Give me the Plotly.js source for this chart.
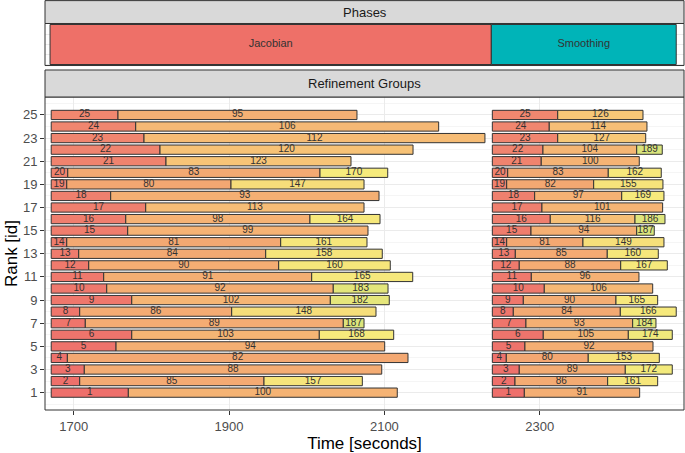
<!DOCTYPE html>
<html>
<head>
<meta charset="utf-8">
<script src="https://cdn.plot.ly/plotly-3.0.1.min.js"></script>
<style>html,body{margin:0;padding:0;background:#fff}#chart{width:685px;height:453px}</style>
</head>
<body>
<div id="chart"></div>
<script>
// ---------- data (rank 1 first) ----------
const ranks = [1,2,3,4,5,6,7,8,9,10,11,12,13,14,15,16,17,18,19,20,21,22,23,24,25];

const jacStart = 1671;
const jacEnds = [
  [1770.3,2116.6],
  [1707.7,1945.0,2071.6],
  [1713.6,2096.6],
  [1691.8,2130.4],
  [1754.5,2100.4],
  [1774.7,2016.2,2112.0],
  [1714.9,2047.1,2073.8],
  [1707.7,1903.4,2089.2],
  [1774.7,2030.4,2106.3],
  [1742.5,2034.2,2104.7],
  [1738.6,2006.4,2136.5],
  [1719.3,1963.9,2107.6],
  [1706.4,1947.2,2097.3],
  [1691.0,1966.5,2077.6],
  [1769.5,2078.9],
  [1767.0,2004.2,2094.4],
  [1792.7,2073.8],
  [1747.6,2093.1],
  [1691.0,1902.5,2073.8],
  [1692.3,2017.1,2104.3],
  [1818.8,2057.0],
  [1811.1,2136.9],
  [1790.5,2229.5],
  [1779.8,2169.9],
  [1757.0,2064.7]
];
const jacLabels = [
  [1,100],[2,85,157],[3,88],[4,82],[5,94],[6,103,168],[7,89,187],[8,86,148],
  [9,102,182],[10,92,183],[11,91,165],[12,90,160],[13,84,158],[14,81,161],
  [15,99],[16,98,164],[17,113],[18,93],[19,80,147],[20,83,170],[21,123],
  [22,120],[23,112],[24,106],[25,95]
];

const smoStart = 2239;
const smoEnds = [
  [2280.2,2428.7],
  [2268.2,2387.5,2451.9],
  [2273.7,2410.2,2470.7],
  [2257.0,2362.5,2454.0],
  [2281.0,2445.9],
  [2304.6,2414.1,2470.7],
  [2282.3,2419.7,2449.7],
  [2266.0,2403.8,2475.8],
  [2278.9,2398.2,2451.9],
  [2305.9,2445.5],
  [2289.2,2427.8],
  [2273.7,2404.3,2464.3],
  [2268.6,2387.0,2452.7],
  [2257.5,2355.7,2460.0],
  [2288.8,2424.9,2447.5],
  [2313.6,2422.7,2461.3],
  [2302.9,2458.3],
  [2293.5,2405.6,2460.0],
  [2257.5,2369.5,2458.7],
  [2258.8,2388.3,2456.5],
  [2302.0,2428.2],
  [2304.2,2424.9,2457.8],
  [2323.2,2436.5],
  [2312.3,2438.1],
  [2323.2,2433.0]
];
const smoLabels = [
  [1,91],[2,86,161],[3,89,172],[4,80,153],[5,92],[6,105,174],[7,93,184],[8,84,166],
  [9,90,165],[10,106],[11,96],[12,88,167],[13,85,160],[14,81,149],[15,94,187],
  [16,116,186],[17,101],[18,97,169],[19,82,155],[20,83,162],[21,100],
  [22,104,189],[23,127],[24,114],[25,126]
];

const phaseNames = ['Jacobian','Smoothing'];
const phaseStart = [1669.5, 2237.7];
const phaseEnd = [2237.7, 2475.8];
const phaseColors = ['#EE7068','#00B4B8'];

// ---------- colour ramp for group labels ----------
const stops = [[1,'#EE6F6B'],[25,'#F0876F'],[80,'#F3A772'],[100,'#F5B374'],[125,'#F7C677'],
               [150,'#F6E07A'],[170,'#F6EB7C'],[180,'#E8E77B'],[189,'#D9E47C']];
function hex2rgb(h){return [parseInt(h.substr(1,2),16),parseInt(h.substr(3,2),16),parseInt(h.substr(5,2),16)];}
function colorFor(v){
  if(v<=stops[0][0]) return stops[0][1];
  for(let i=1;i<stops.length;i++){
    if(v<=stops[i][0]){
      const a=hex2rgb(stops[i-1][1]), b=hex2rgb(stops[i][1]);
      const t=(v-stops[i-1][0])/(stops[i][0]-stops[i-1][0]);
      const c=a.map((x,k)=>Math.round(x+(b[k]-x)*t));
      return 'rgb('+c.join(',')+')';
    }
  }
  return stops[stops.length-1][1];
}

// ---------- build segments ----------
const bx=[], bbase=[], by=[], bcol=[], tx=[], ty=[], tt=[];
function addPhase(start, ends, labels){
  ranks.forEach((r,i)=>{
    let prev=start;
    ends[i].forEach((e,j)=>{
      bbase.push(prev); bx.push(e-prev); by.push(r); bcol.push(colorFor(labels[i][j]));
      tx.push((prev+e)/2); ty.push(r); tt.push(String(labels[i][j]));
      prev=e;
    });
  });
}
addPhase(jacStart, jacEnds, jacLabels);
addPhase(smoStart, smoEnds, smoLabels);

const FONT = 'Liberation Sans, Arial, Helvetica, sans-serif';

const traces = [
  {type:'bar', orientation:'h', x:bx, base:bbase, y:by, width:0.8,
   marker:{color:bcol, line:{color:'#333333', width:1}}, hoverinfo:'skip',
   xaxis:'x', yaxis:'y', showlegend:false},
  {type:'scatter', mode:'text', x:tx, y:ty, text:tt,
   textfont:{family:FONT, size:10, color:'#333333'}, hoverinfo:'skip',
   xaxis:'x', yaxis:'y', showlegend:false, cliponaxis:false},
  {type:'bar', orientation:'h',
   x:phaseNames.map((n,i)=>phaseEnd[i]-phaseStart[i]), base:phaseStart, y:[0,0], width:1,
   marker:{color:phaseColors, line:{color:'#333333', width:1}}, hoverinfo:'skip',
   xaxis:'x', yaxis:'y2', showlegend:false},
  {type:'scatter', mode:'text', x:phaseNames.map((n,i)=>(phaseStart[i]+phaseEnd[i])/2), y:[0,0],
   text:phaseNames, textfont:{family:FONT, size:11, color:'#333333'}, hoverinfo:'skip',
   xaxis:'x', yaxis:'y2', showlegend:false}
];

const yB = [0, 0.7634], yRS=[0.7634,0.8293], yP=[0.8402,0.9427], yPS=[0.9427,0.9985];

const layout = {
  width:685, height:453,
  margin:{l:45, r:1, t:0, b:43},
  paper_bgcolor:'#ffffff', plot_bgcolor:'#ffffff',
  font:{family:FONT},
  barmode:'overlay', bargap:0,
  xaxis:{range:[1663,2485.8], tickmode:'array', tickvals:[1700,1900,2100,2300],
    ticks:'outside', ticklen:4, tickcolor:'#333333', tickwidth:1,
    tickfont:{family:FONT, size:13, color:'#4d4d4d'},
    showgrid:true, gridcolor:'#ebebeb', gridwidth:1, zeroline:false, showline:false,
    anchor:'y', fixedrange:true,
    title:{text:'Time [seconds]', font:{family:FONT, size:17, color:'#000000'}, standoff:2}},
  yaxis:{domain:yB, range:[-0.5,26.55], tickmode:'linear', tick0:1, dtick:2,
    ticks:'outside', ticklen:4, tickcolor:'#333333', tickwidth:1,
    tickfont:{family:FONT, size:13, color:'#4d4d4d'},
    showgrid:true, gridcolor:'#ebebeb', gridwidth:1, zeroline:false, showline:false,
    minor:{dtick:1, tick0:0, showgrid:true, gridcolor:'#ebebeb', gridwidth:0.5, ticks:''},
    anchor:'x',
    title:{text:'Rank [id]', font:{family:FONT, size:17, color:'#000000'}, standoff:0}},
  yaxis2:{domain:yP, range:[-0.525,0.525], showticklabels:false, ticks:'',
    showgrid:true, dtick:0.25, tick0:0, gridcolor:'#ebebeb', gridwidth:1, zeroline:false,
    anchor:'x'},
  shapes:[
    {type:'rect', xref:'paper', yref:'paper', x0:0, x1:1, y0:yB[0], y1:yB[1], line:{color:'#333333', width:1}, layer:'above'},
    {type:'rect', xref:'paper', yref:'paper', x0:0, x1:1, y0:yRS[0], y1:yRS[1], fillcolor:'#d9d9d9', line:{color:'#333333', width:1}, layer:'above'},
    {type:'rect', xref:'paper', yref:'paper', x0:0, x1:1, y0:yP[0], y1:yP[1], line:{color:'#333333', width:1}, layer:'above'},
    {type:'rect', xref:'paper', yref:'paper', x0:0, x1:1, y0:yPS[0], y1:yPS[1], fillcolor:'#d9d9d9', line:{color:'#333333', width:1}, layer:'above'}
  ],
  annotations:[
    {xref:'paper', yref:'paper', x:0.5, y:(yRS[0]+yRS[1])/2, text:'Refinement Groups', showarrow:false,
     font:{family:FONT, size:13, color:'#1a1a1a'}, xanchor:'center', yanchor:'middle'},
    {xref:'paper', yref:'paper', x:0.5, y:(yPS[0]+yPS[1])/2, text:'Phases', showarrow:false,
     font:{family:FONT, size:13, color:'#1a1a1a'}, xanchor:'center', yanchor:'middle'}
  ]
};

Plotly.newPlot('chart', traces, layout, {staticPlot:true, displayModeBar:false});
</script>
</body>
</html>
